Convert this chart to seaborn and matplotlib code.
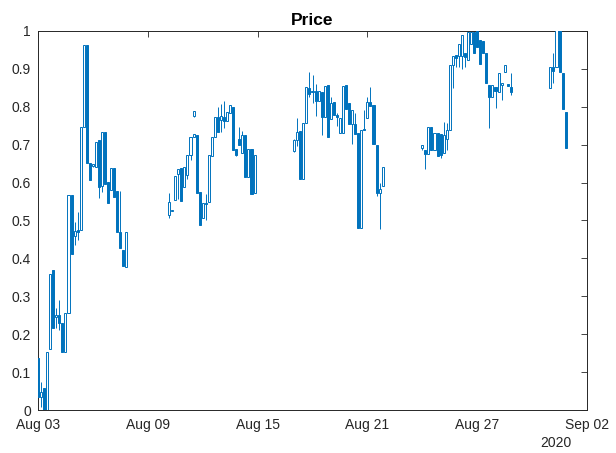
import numpy as np
import pandas as pd
import seaborn as sns
import matplotlib
matplotlib.use("Agg")
import matplotlib.pyplot as plt
import matplotlib.dates as mdates

# 4-hour candles, slot index counted from Aug 03 00:00
slot = [0, 1, 2, 3, 4, 5, 6, 7, 8, 9, 10, 11, 12, 13, 14, 15, 16, 17, 18, 19,
        20, 21, 22, 23, 24, 25, 26, 27, 28, 29,
        43, 44, 45, 46, 47, 48, 49, 50, 51, 51, 52, 53, 54, 55, 56, 57, 58, 59, 60, 61,
        62, 63, 64, 65, 66, 67, 68, 69, 70, 71,
        84, 85, 86, 87, 88, 89, 90, 91, 92, 93, 94, 95, 96, 97, 98, 99, 100, 101, 102, 103,
        104, 105, 106, 107, 108, 109, 110, 111, 112, 113,
        126, 127, 128, 129, 130, 131, 132, 133, 134, 135, 136, 137, 138, 139, 140, 141, 142, 143, 144, 145,
        146, 147, 148, 149, 150, 151, 152, 153, 154, 155,
        168, 169, 170, 171, 172, 173]

open_ = [0.136, 0.035, 0.057, 0.0, 0.16, 0.369, 0.245, 0.251, 0.229, 0.154,
         0.257, 0.567, 0.458, 0.475, 0.475, 0.747, 0.963, 0.652, 0.645, 0.64,
         0.713, 0.59, 0.733, 0.602, 0.581, 0.638, 0.578, 0.47, 0.422, 0.378,
         0.515, 0.525, 0.554, 0.623, 0.639, 0.588, 0.62, 0.673, 0.72, 0.775, 0.726, 0.574, 0.506, 0.547,
         0.548, 0.67, 0.721, 0.772, 0.765, 0.774, 0.763, 0.784, 0.8, 0.688, 0.716, 0.677, 0.726, 0.616,
         0.688, 0.572,
         0.684, 0.712, 0.737, 0.609, 0.758, 0.849, 0.838, 0.842, 0.816, 0.839, 0.772, 0.857, 0.767, 0.813,
         0.778, 0.732, 0.732, 0.857, 0.809, 0.755, 0.755, 0.732, 0.48, 0.741, 0.77, 0.813, 0.805, 0.7,
         0.573, 0.591,
         0.69, 0.687, 0.675, 0.746, 0.686, 0.732, 0.729, 0.677, 0.714, 0.739, 0.91, 0.936, 0.934, 0.934,
         0.941, 0.923, 0.965, 0.998, 1.0, 0.976, 0.974, 0.943, 0.858, 0.827, 0.853, 0.84, 0.858, 0.893,
         0.858, 0.853,
         0.849, 0.906, 0.906, 1.02, 0.888, 0.787]

high = [0.136, 0.075, 0.057, 0.154, 0.358, 0.369, 0.268, 0.29, 0.229, 0.257,
        0.567, 0.567, 0.497, 0.523, 0.747, 0.963, 0.963, 0.652, 0.65, 0.708,
        0.713, 0.733, 0.733, 0.602, 0.638, 0.638, 0.578, 0.578, 0.422, 0.47,
        0.572, 0.527, 0.618, 0.635, 0.639, 0.642, 0.673, 0.721, 0.727, 0.79, 0.726, 0.574, 0.547, 0.57,
        0.673, 0.721, 0.772, 0.8, 0.807, 0.816, 0.787, 0.805, 0.8, 0.688, 0.747, 0.737, 0.726, 0.688,
        0.688, 0.673,
        0.715, 0.77, 0.737, 0.758, 0.851, 0.892, 0.884, 0.86, 0.842, 0.839, 0.855, 0.857, 0.825, 0.813,
        0.784, 0.77, 0.855, 0.857, 0.809, 0.791, 0.783, 0.732, 0.739, 0.792, 0.825, 0.851, 0.805, 0.7,
        0.598, 0.64,
        0.699, 0.687, 0.746, 0.746, 0.73, 0.732, 0.729, 0.761, 0.756, 0.91, 0.934, 0.936, 0.967, 0.989,
        0.941, 1.0, 1.0, 1.0, 1.0, 0.976, 0.974, 0.943, 0.858, 0.858, 0.853, 0.888, 0.864, 0.91,
        0.858, 0.888,
        0.904, 0.941, 1.02, 1.02, 0.888, 0.787]

low = [0.03, 0.009, 0.0, 0.0, 0.16, 0.216, 0.216, 0.211, 0.154, 0.154,
       0.257, 0.412, 0.435, 0.449, 0.475, 0.747, 0.651, 0.608, 0.64, 0.64,
       0.559, 0.575, 0.596, 0.547, 0.581, 0.563, 0.47, 0.428, 0.38, 0.378,
       0.506, 0.524, 0.554, 0.556, 0.552, 0.588, 0.61, 0.66, 0.72, 0.772, 0.572, 0.488, 0.506, 0.5,
       0.548, 0.67, 0.721, 0.733, 0.734, 0.743, 0.763, 0.784, 0.686, 0.669, 0.699, 0.677, 0.616, 0.616,
       0.57, 0.572,
       0.68, 0.697, 0.609, 0.609, 0.758, 0.826, 0.81, 0.777, 0.816, 0.725, 0.772, 0.721, 0.767, 0.778,
       0.749, 0.732, 0.732, 0.793, 0.755, 0.703, 0.728, 0.481, 0.48, 0.739, 0.77, 0.803, 0.702, 0.565,
       0.477, 0.591,
       0.686, 0.635, 0.675, 0.686, 0.686, 0.669, 0.665, 0.677, 0.686, 0.739, 0.849, 0.906, 0.906, 0.899,
       0.906, 0.923, 0.965, 0.941, 0.958, 0.914, 0.941, 0.864, 0.743, 0.827, 0.796, 0.84, 0.818, 0.893,
       0.856, 0.831,
       0.849, 0.862, 0.906, 0.893, 0.793, 0.69]

close = [0.035, 0.048, 0.0, 0.154, 0.358, 0.216, 0.251, 0.229, 0.154, 0.257,
         0.567, 0.412, 0.471, 0.47, 0.747, 0.963, 0.651, 0.608, 0.646, 0.708,
         0.589, 0.733, 0.596, 0.547, 0.638, 0.563, 0.47, 0.428, 0.38, 0.47,
         0.55, 0.526, 0.618, 0.635, 0.552, 0.642, 0.673, 0.721, 0.727, 0.79, 0.572, 0.488, 0.547, 0.543,
         0.673, 0.721, 0.772, 0.733, 0.775, 0.763, 0.787, 0.805, 0.686, 0.673, 0.7, 0.726, 0.616, 0.688,
         0.57, 0.673,
         0.712, 0.734, 0.609, 0.758, 0.851, 0.834, 0.842, 0.816, 0.842, 0.774, 0.855, 0.721, 0.811, 0.778,
         0.772, 0.77, 0.855, 0.793, 0.755, 0.791, 0.728, 0.481, 0.739, 0.739, 0.813, 0.803, 0.702, 0.573,
         0.582, 0.64,
         0.699, 0.675, 0.746, 0.686, 0.73, 0.669, 0.673, 0.726, 0.74, 0.91, 0.934, 0.93, 0.967, 0.989,
         0.932, 0.998, 0.998, 0.941, 0.958, 0.914, 0.941, 0.864, 0.827, 0.858, 0.842, 0.888, 0.864, 0.91,
         0.856, 0.84,
         0.904, 0.895, 1.02, 0.893, 0.793, 0.69]

start = pd.Timestamp("2020-08-03")
x_ticks = pd.date_range("2020-08-03", "2020-09-02", freq="6D")
y_ticks = np.arange(0, 1.01, 0.1)
y_labels = ["0", "0.1", "0.2", "0.3", "0.4", "0.5", "0.6", "0.7", "0.8", "0.9", "1"]

blue = "#0072BD"
dark = "#262626"

sns.set_theme(style="white")
plt.rcParams["font.family"] = ["Liberation Sans", "DejaVu Sans"]

df = pd.DataFrame({"time": start + pd.to_timedelta(np.array(slot) * 4, unit="h"),
                   "open": open_, "high": high, "low": low, "close": close})
df["x"] = mdates.date2num(df["time"])
df["up"] = df["close"] >= df["open"]

fig = plt.figure(figsize=(6.16, 4.53), dpi=100)
ax = fig.add_axes([38 / 616, 43 / 453, 549 / 616, 379 / 453])

# wicks first, bodies on top
ax.vlines(df["x"], df["low"], df["high"], color=blue, lw=0.7, zorder=2)
bottom = df[["open", "close"]].min(axis=1)
height = (df["close"] - df["open"]).abs().clip(lower=0.003)
face = [("white" if u else blue) for u in df["up"]]
ax.bar(df["x"], height, bottom=bottom, width=0.11, color=face,
       edgecolor=blue, linewidth=0.7, zorder=3)

ax.set_xlim(mdates.date2num(start), mdates.date2num(pd.Timestamp("2020-09-02")))
ax.set_ylim(0, 1)
ax.set_xticks(mdates.date2num(x_ticks))
ax.xaxis.set_major_formatter(mdates.DateFormatter("%b %d"))
ax.set_yticks(y_ticks)
ax.set_yticklabels(y_labels)

ax.tick_params(direction="in", top=True, right=True, length=4, width=0.6,
               colors=dark, labelsize=10)
ax.tick_params(axis="x", pad=6)
ax.tick_params(axis="y", pad=5)
for s in ax.spines.values():
    s.set_color(dark)
    s.set_linewidth(0.7)

ax.set_title("Price", fontsize=12.5, fontweight="bold", color="black", pad=4)
ax.text(0.944, -0.087, "2020", transform=ax.transAxes, ha="center", va="center",
        fontsize=10, color=dark)

fig.savefig("out.png", dpi=100, facecolor="white")
